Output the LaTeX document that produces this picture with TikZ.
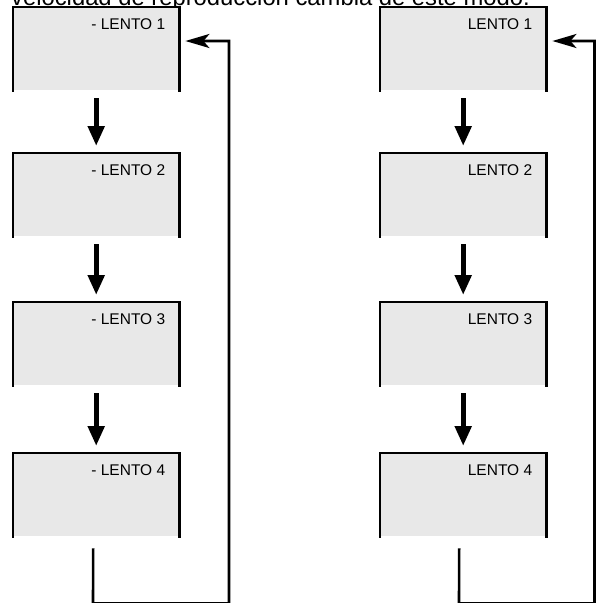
\documentclass[tikz,border=0pt]{standalone}
\usepackage{fontspec}
\setmainfont{Liberation Sans}
\usetikzlibrary{arrows.meta,calc}
\definecolor{boxgray}{HTML}{E8E8E8}
\tikzset{
  modebox/.style={minimum width=166pt,minimum height=83pt,inner sep=0pt,fill=boxgray,draw=none},
  modetxt/.style={anchor=base east,inner sep=0pt,font=\fontsize{15.5}{17}\selectfont},
  boxedge/.style={line width=2.2pt,line cap=rect},
  downarrow/.style={line width=5pt,-{Triangle[width=16pt,length=20pt]}},
  loopline/.style={line width=2.6pt,-{Stealth[width=14pt,length=24pt,inset=6pt]}}
}
\begin{document}
\begin{tikzpicture}[x=1pt,y=-1pt]
\useasboundingbox (0,0) rectangle (596,603);
% title (partly cut by the top edge)
\node[anchor=base west,inner sep=0pt,font=\fontsize{23.8}{26}\selectfont] (title) at (11,5.5) {velocidad de reproducción cambia de este modo.};
\foreach \i/\t in {1/7,2/153,3/302,4/453}{
  \node[modebox,anchor=north west] (L\i) at (13,\t) {};
  \draw[boxedge] (L\i.south west) -- (L\i.north west) -- (L\i.north east) -- (L\i.south east);
  \node[modetxt] (LT\i) at ($(L\i.north east)+(-14,22)$) {- LENTO \i};
  \node[modebox,anchor=north west] (R\i) at (380,\t) {};
  \draw[boxedge] (R\i.south west) -- (R\i.north west) -- (R\i.north east) -- (R\i.south east);
  \node[modetxt] (RT\i) at ($(R\i.north east)+(-14,22)$) {LENTO \i};
}
\foreach \a/\b in {1/2,2/3,3/4}{
  \draw[downarrow] ($(L\a.south)+(0,8)$) -- ($(L\b.north)+(0,-7)$);
  \draw[downarrow] ($(R\a.south)+(0,8)$) -- ($(R\b.north)+(0,-7)$);
}
% return loops
\coordinate (LA) at (93,603.5);
\coordinate (LB) at (229,603.5);
\coordinate (RA) at (459,603.5);
\coordinate (RB) at (594.5,603.5);
\draw[loopline] ($(L4.south)+(-3,12)$) -- (LA) -- (LB) |- ($(L1.north east)+(6,34)$);
\draw[loopline] ($(R4.south)+(-4,12)$) -- (RA) -- (RB) |- ($(R1.north east)+(6,34)$);
\end{tikzpicture}
\end{document}
